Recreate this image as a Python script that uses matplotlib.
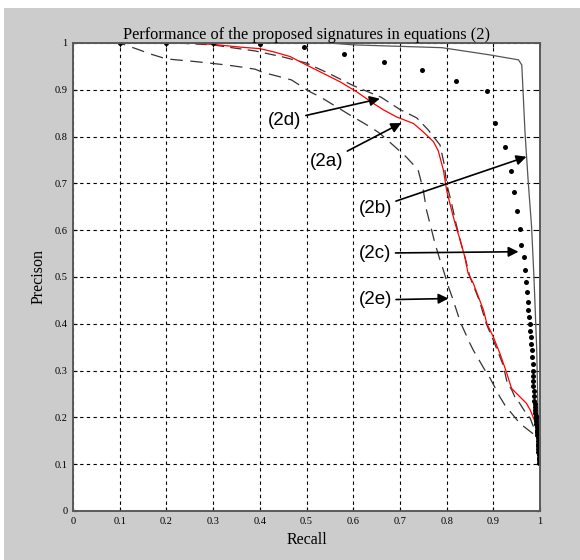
import matplotlib
matplotlib.use('Agg')
import matplotlib.pyplot as plt
from matplotlib.patches import Rectangle

# data
ticks = [0, 0.1, 0.2, 0.3, 0.4, 0.5, 0.6, 0.7, 0.8, 0.9, 1.0]
tick_labels = ['0', '0.1', '0.2', '0.3', '0.4', '0.5', '0.6', '0.7', '0.8', '0.9', '1']

# (2a) red solid
rec_2a = [0.0, 0.25, 0.30, 0.36, 0.40, 0.43, 0.465, 0.50, 0.536, 0.572, 0.607, 0.643,
          0.665, 0.693, 0.729, 0.75, 0.772, 0.782, 0.793, 0.80, 0.807, 0.818, 0.829,
          0.839, 0.846, 0.857, 0.868, 0.879, 0.886, 0.90, 0.914, 0.929, 0.939, 0.971,
          0.979, 0.988, 0.995]
pre_2a = [1.0, 1.0, 0.997, 0.991, 0.988, 0.981, 0.971, 0.953, 0.935, 0.917, 0.896, 0.871,
          0.857, 0.842, 0.828, 0.81, 0.789, 0.77, 0.729, 0.686, 0.657, 0.615, 0.579,
          0.543, 0.508, 0.487, 0.458, 0.429, 0.401, 0.372, 0.337, 0.294, 0.262, 0.23,
          0.216, 0.194, 0.18]

# (2b) gray solid
rec_2b = [0.0, 0.55, 0.60, 0.79, 0.89, 0.954, 0.961, 0.968, 0.975, 0.982, 0.987, 0.989,
          0.993, 0.995, 0.997]
pre_2b = [1.0, 1.0, 0.996, 0.99, 0.975, 0.964, 0.953, 0.807, 0.70, 0.607, 0.50, 0.45,
          0.344, 0.244, 0.15]

# (2c) dots
rec_2c = [0.1, 0.2, 0.3, 0.4, 0.494, 0.581, 0.665, 0.747, 0.820, 0.887, 0.904, 0.924,
          0.937, 0.944, 0.950, 0.957, 0.960, 0.965, 0.968, 0.970, 0.973, 0.974, 0.975,
          0.977, 0.978, 0.979, 0.980, 0.981, 0.982, 0.983, 0.985, 0.985, 0.985, 0.986,
          0.986, 0.987, 0.988, 0.988, 0.989, 0.989, 0.990, 0.990, 0.991, 0.991, 0.992,
          0.992, 0.993, 0.993, 0.994, 0.994, 0.995, 0.995, 0.995, 0.996, 0.996, 0.996,
          0.997, 0.997, 0.997, 0.997]
pre_2c = [1.0, 1.0, 1.0, 0.997, 0.991, 0.976, 0.960, 0.942, 0.919, 0.897, 0.830, 0.778,
          0.726, 0.682, 0.640, 0.603, 0.569, 0.542, 0.515, 0.490, 0.469, 0.447, 0.429,
          0.415, 0.400, 0.385, 0.371, 0.357, 0.343, 0.329, 0.314, 0.300, 0.289, 0.278,
          0.268, 0.257, 0.246, 0.235, 0.228, 0.222, 0.216, 0.210, 0.204, 0.198, 0.192,
          0.186, 0.180, 0.174, 0.168, 0.162, 0.156, 0.150, 0.144, 0.138, 0.132, 0.126,
          0.120, 0.114, 0.108, 0.102]

# (2d) dashed, hugging the red curve
rec_2d = [0.0, 0.22, 0.30, 0.34, 0.39, 0.45, 0.50, 0.55, 0.60, 0.66, 0.70, 0.736, 0.76,
          0.786, 0.795, 0.80, 0.81, 0.82, 0.83, 0.84, 0.85, 0.87, 0.885, 0.90, 0.914,
          0.921, 0.93, 0.939, 0.946, 0.954, 0.968, 0.979, 0.993, 1.0]
pre_2d = [1.0, 1.0, 0.996, 0.99, 0.983, 0.97, 0.957, 0.934, 0.909, 0.884, 0.858, 0.84,
          0.815, 0.782, 0.74, 0.70, 0.66, 0.615, 0.575, 0.54, 0.50, 0.45, 0.40, 0.365,
          0.33, 0.312, 0.273, 0.26, 0.244, 0.234, 0.212, 0.198, 0.162, 0.155]

# (2e) dashed, leftmost
rec_2e = [0.0, 0.1, 0.143, 0.161, 0.2, 0.265, 0.329, 0.358, 0.39, 0.407, 0.45, 0.468,
          0.507, 0.529, 0.572, 0.593, 0.636, 0.657, 0.693, 0.714, 0.739, 0.75, 0.757,
          0.768, 0.775, 0.786, 0.793, 0.804, 0.814, 0.825, 0.832, 0.85, 0.857, 0.882,
          0.893, 0.914, 0.925, 0.957, 0.975, 0.989, 1.0]
pre_2e = [1.0, 1.0, 0.985, 0.978, 0.966, 0.960, 0.953, 0.949, 0.944, 0.937, 0.926, 0.921,
          0.896, 0.885, 0.859, 0.846, 0.821, 0.807, 0.775, 0.756, 0.729, 0.686, 0.643,
          0.60, 0.572, 0.536, 0.515, 0.479, 0.451, 0.417, 0.398, 0.358, 0.344, 0.301,
          0.284, 0.244, 0.226, 0.187, 0.173, 0.162, 0.15]

fig = plt.figure(figsize=(5.8, 5.6), dpi=100)
fig.patch.set_facecolor('white')
# gray matlab-like window background (white strip at top and left)
fig.patches.append(Rectangle((4 / 580, 0), 1, 552 / 560, transform=fig.transFigure,
                             facecolor='#cccccc', edgecolor='none', zorder=-10))

ax = fig.add_axes([73 / 580, 49 / 560, 467 / 580, 468 / 560])
ax.set_facecolor('white')

ax.plot(rec_2e, pre_2e, color='#333333', lw=0.9, linestyle=(0, (10, 6)))
ax.plot(rec_2d, pre_2d, color='#333333', lw=0.9, linestyle=(0, (9, 5)))
ax.plot(rec_2b, pre_2b, color='#555555', lw=0.9)
ax.plot(rec_2a, pre_2a, color='red', lw=0.9)
ax.plot(rec_2c, pre_2c, linestyle='none', marker='o', markersize=3.6,
        color='black', markeredgewidth=0)

ax.set_xlim(0, 1)
ax.set_ylim(0, 1)
ax.set_xticks(ticks)
ax.set_yticks(ticks)
ax.set_xticklabels(tick_labels)
ax.set_yticklabels(tick_labels)
ax.grid(True, color='black', linestyle=(0, (3, 3)), linewidth=0.8)
ax.set_axisbelow(True)

serif = 'Liberation Serif'
for lab in ax.get_xticklabels() + ax.get_yticklabels():
    lab.set_family(serif)
    lab.set_fontsize(7.5)
ax.tick_params(direction='in', length=3, width=0.8, top=True, right=True, pad=4)
for sp in ax.spines.values():
    sp.set_color('#5a5a5a')
    sp.set_linewidth(1.4)

ax.set_title('Performance of the proposed signatures in equations (2)',
             family=serif, fontsize=11.8, pad=3)
ax.set_xlabel('Recall', family=serif, fontsize=11.5, labelpad=5)
ax.set_ylabel('Precison', family=serif, fontsize=11.5, labelpad=6)

arrow = dict(arrowstyle='-|>', color='black', lw=1.2, mutation_scale=15,
             shrinkA=1, shrinkB=0)
sans = 'Liberation Sans'
notes = [('(2d)', (0.454, 0.835), (0.657, 0.881)),
         ('(2a)', (0.543, 0.746), (0.703, 0.829)),
         ('(2b)', (0.647, 0.647), (0.971, 0.757)),
         ('(2c)', (0.647, 0.551), (0.954, 0.554)),
         ('(2e)', (0.647, 0.451), (0.804, 0.454))]
for txt, pos, tip in notes:
    ax.annotate(txt, xy=tip, xytext=pos, ha='center', va='center',
                family=sans, fontsize=13.5, arrowprops=arrow)

fig.savefig('out.png', dpi=100, facecolor=fig.get_facecolor())
